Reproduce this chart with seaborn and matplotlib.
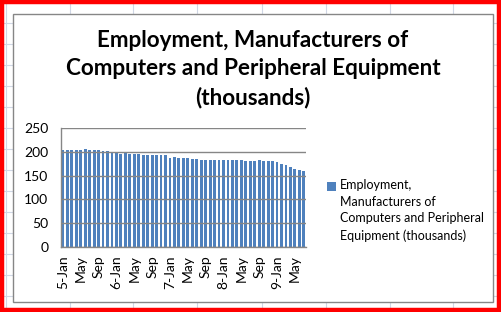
import matplotlib
matplotlib.use("Agg")
import matplotlib.pyplot as plt
from matplotlib.patches import Rectangle
from matplotlib.lines import Line2D
import seaborn as sns
import pandas as pd
import numpy as np

# ---- data ----
years = [2005, 2006, 2007, 2008, 2009]
month_names = ["Jan", "Feb", "Mar", "Apr", "May", "Jun", "Jul", "Aug", "Sep", "Oct", "Nov", "Dec"]
employment = [
    205, 204, 205, 205, 204, 207, 204, 205, 205, 203, 202, 200,
    198, 196, 197, 196, 196, 195, 194, 194, 194, 194, 193, 193,
    188, 190, 188, 188, 187, 185, 185, 184, 183, 183, 183, 183,
    183, 183, 183, 183, 183, 181, 181, 181, 183, 181, 181, 180,
    179, 175, 172, 168, 164, 162, 160,
]
series_label = "Employment,\nManufacturers of\nComputers and Peripheral\nEquipment (thousands)"
title = "Employment, Manufacturers of\nComputers and Peripheral Equipment\n(thousands)"
y_ticks = [0, 50, 100, 150, 200, 250]

months = []
for y in years:
    for m in month_names:
        months.append(f"{y}-{m}")
months = months[:len(employment)]
df = pd.DataFrame({"month": months, "value": employment})

def tick_text(s):
    y, m = s.split("-")
    return f"{int(y) % 10}-Jan" if m == "Jan" else m

# ---- figure ----
sns.set_style("white")
plt.rcParams["font.family"] = ["Lato", "DejaVu Sans"]
plt.rcParams["text.color"] = "black"
plt.rcParams["xtick.color"] = "black"
plt.rcParams["ytick.color"] = "black"
W, H = 502, 312
fig = plt.figure(figsize=(W / 100, H / 100), dpi=100)
fig.patch.set_facecolor("white")

def fx(px): return px / W
def fy(py): return 1 - py / H

# spreadsheet grid background
grid_c = "#D0D7E5"
for gx in [6, 70, 133, 197, 262, 326, 390, 453]:
    fig.add_artist(Line2D([fx(gx), fx(gx)], [0, 1], color=grid_c, lw=0.8, zorder=0))
for gy in [2, 23, 44, 65, 86, 107, 128, 149, 170, 191, 212, 233, 254, 275, 296]:
    fig.add_artist(Line2D([0, 1], [fy(gy), fy(gy)], color=grid_c, lw=0.8, zorder=0))

# chart area
fig.add_artist(Rectangle((fx(13), fy(302)), fx(493) - fx(13), fy(14) - fy(302),
                         facecolor="white", edgecolor="#868686", lw=1.0, zorder=1))
# red selection border
fig.add_artist(Rectangle((0.003, 0.006), 0.992, 0.988, facecolor="none",
                         edgecolor="#FF0000", lw=3.2, zorder=10))

ax = fig.add_axes([fx(60.7), fy(246.7), fx(306) - fx(60.7), fy(128.3) - fy(246.7)])
ax.set_zorder(2)
ax.patch.set_alpha(0)

sns.barplot(data=df, x="month", y="value", color="#4F81BD", width=0.64,
            ax=ax, label=series_label, saturation=1, zorder=2,
            linewidth=0, antialiased=False)

ax.set_xlim(-0.5, len(employment) - 0.5)
ax.set_ylim(0, 250)
ax.set_yticks(y_ticks)
ax.set_yticklabels([str(v) for v in y_ticks], fontsize=10)
ax.yaxis.grid(True, color="#868686", lw=1.0, zorder=3)
ax.set_axisbelow(False)
ax.tick_params(axis="y", length=0, pad=9)

pos = list(range(0, len(employment), 4))
ax.set_xticks(pos)
ax.set_xticklabels([tick_text(months[i]) for i in pos], rotation=90, fontsize=10)
ax.set_xticks(np.arange(-0.5, len(employment), 1.0), minor=True)
ax.tick_params(axis="x", which="major", length=0, pad=6)
ax.tick_params(axis="x", which="minor", length=3, width=0.8, color="#868686", direction="out")
ax.set_xlabel("")
ax.set_ylabel("")
for s in ["top", "right"]:
    ax.spines[s].set_visible(False)
for s in ["left", "bottom"]:
    ax.spines[s].set_color("#868686")
    ax.spines[s].set_linewidth(1.0)

fig.text(fx(253), fy(69), title, ha="center", va="center", fontsize=16.2,
         fontweight="bold", linespacing=1.42, zorder=5)

leg = ax.legend(loc="upper left", bbox_to_anchor=(fx(322), fy(174)),
                bbox_transform=fig.transFigure, frameon=False, fontsize=9,
                handlelength=0.7, handleheight=0.7, handletextpad=0.35, borderaxespad=0)
for t in leg.get_texts():
    t.set_linespacing(1.47)
# align the legend swatch with the first text line
for h in leg.legend_handles:
    h.set_y(h.get_y() + 17.8)

fig.savefig("out.png", dpi=100)
